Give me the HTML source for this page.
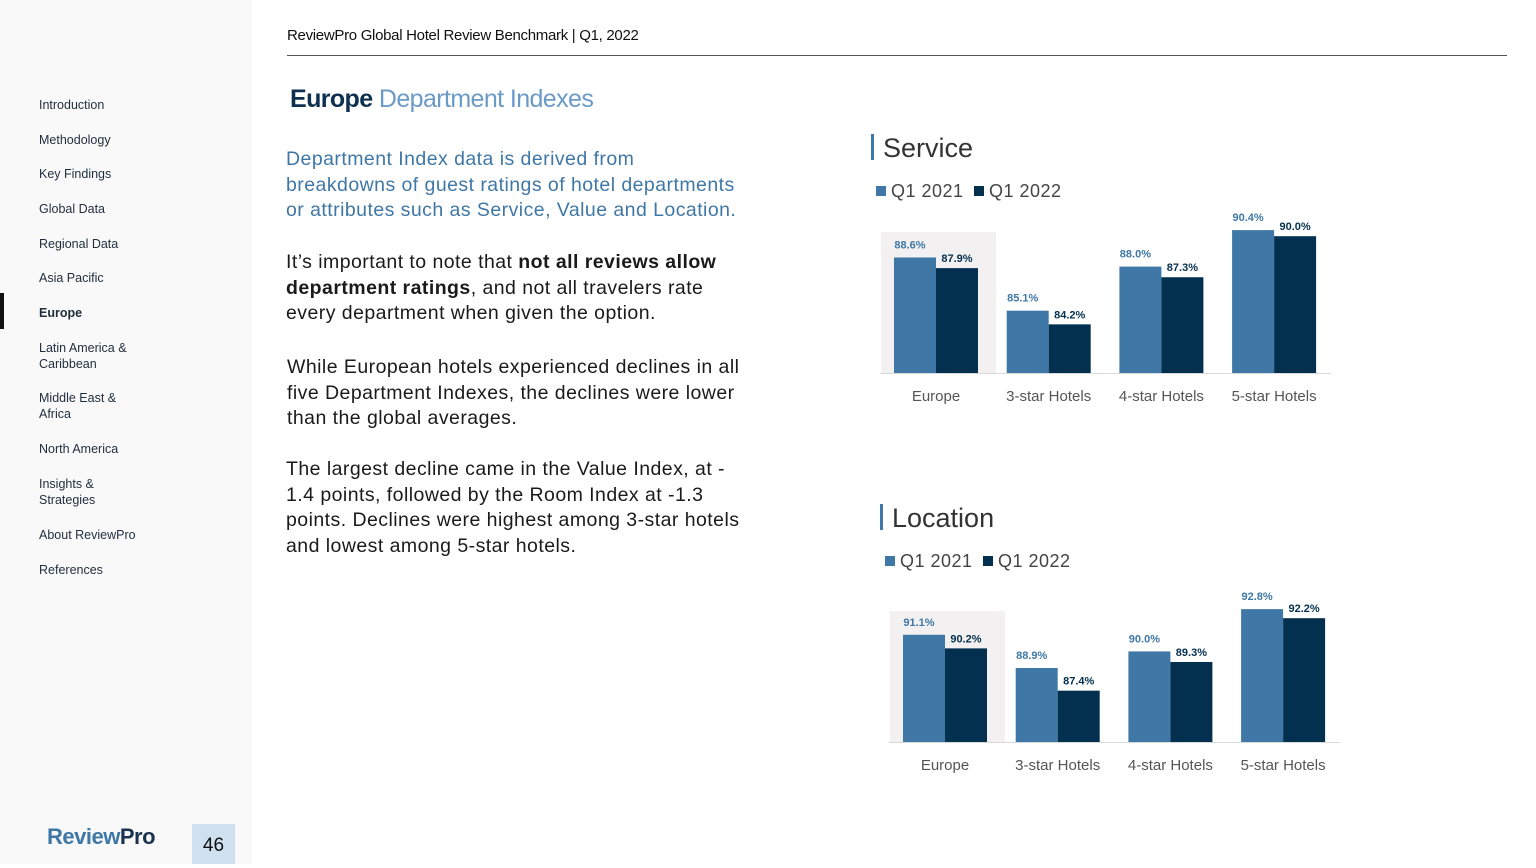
<!DOCTYPE html>
<html><head><meta charset="utf-8"><style>
body{margin:0;width:1536px;height:864px;background:#fff;font-family:"Liberation Sans",sans-serif;position:relative;overflow:hidden;color:#111}
.side{position:absolute;left:0;top:0;width:252px;height:864px;background:#f9f9f9}
.nav{position:absolute;left:39px;font-size:12.5px;color:#1f2d3d;line-height:16px}
.txt{position:absolute;left:286px;font-size:19.5px;line-height:25.5px;color:#1a1a1a;white-space:nowrap;letter-spacing:0.45px}
svg text{font-family:"Liberation Sans",sans-serif}
</style></head><body>
<div class="side"></div>
<div class="nav" style="top:97px">Introduction</div>
<div class="nav" style="top:132px">Methodology</div>
<div class="nav" style="top:166px">Key Findings</div>
<div class="nav" style="top:201px">Global Data</div>
<div class="nav" style="top:236px">Regional Data</div>
<div class="nav" style="top:270px">Asia Pacific</div>
<div style="position:absolute;left:0;top:293px;width:4px;height:36px;background:#111"></div>
<div class="nav" style="top:305px;font-weight:bold">Europe</div>
<div class="nav" style="top:340px">Latin America &amp;<br>Caribbean</div>
<div class="nav" style="top:390px">Middle East &amp;<br>Africa</div>
<div class="nav" style="top:441px">North America</div>
<div class="nav" style="top:476px">Insights &amp;<br>Strategies</div>
<div class="nav" style="top:527px">About ReviewPro</div>
<div class="nav" style="top:562px">References</div>
<div style="position:absolute;left:47px;top:824px;font-size:22px;font-weight:bold;color:#3f77a6;letter-spacing:-0.5px">Review<span style="color:#1b3350">Pro</span></div>
<div style="position:absolute;left:192px;top:824px;width:43px;height:40px;background:#cfe1f1;font-size:19px;text-align:center;line-height:44px">46</div>

<div style="position:absolute;left:287px;top:27px;font-size:15px;letter-spacing:-0.3px">ReviewPro Global Hotel Review Benchmark | Q1, 2022</div>
<div style="position:absolute;left:287px;top:55px;width:1220px;height:1px;background:#555"></div>
<div style="position:absolute;left:290px;top:85px;font-size:25px;letter-spacing:-0.6px"><b style="color:#0d3050">Europe</b> <span style="color:#6a9ac8">Department Indexes</span></div>

<div class="txt" style="top:147px;color:#3f77a6">Department Index data is derived from<br>breakdowns of guest ratings of hotel departments<br>or attributes such as Service, Value and Location.</div>
<div class="txt" style="top:250px">It’s important to note that <b>not all reviews allow</b><br><b>department ratings</b>, and not all travelers rate<br>every department when given the option.</div>
<div class="txt" style="top:355px;left:287px">While European hotels experienced declines in all<br>five Department Indexes, the declines were lower<br>than the global averages.</div>
<div class="txt" style="top:457px">The largest decline came in the Value Index, at -<br>1.4 points, followed by the Room Index at -1.3<br>points. Declines were highest among 3-star hotels<br>and lowest among 5-star hotels.</div>

<svg id="chart" width="1536" height="864" style="position:absolute;left:0;top:0"></svg>
<script>
const categories=["Europe","3-star Hotels","4-star Hotels","5-star Hotels"];
const serviceQ121=[88.6,85.1,88.0,90.4];
const serviceQ122=[87.9,84.2,87.3,90.0];
const locationQ121=[91.1,88.9,90.0,92.8];
const locationQ122=[90.2,87.4,89.3,92.2];
const seriesNames=["Q1 2021","Q1 2022"];
const NS="http://www.w3.org/2000/svg";
const svg=document.getElementById('chart');
function mk(tag,attrs,txt){const e=document.createElementNS(NS,tag);for(const k in attrs)e.setAttribute(k,attrs[k]);if(txt!==undefined)e.textContent=txt;svg.appendChild(e);return e;}
function drawChart(name,title,tx,ty,x0,base,min,scale,a,b){
  let e=mk('rect',{x:tx,y:ty-13,width:3,height:26,fill:'#3f77a6'});
  
  e=mk('text',{x:tx+12,y:ty+10,'font-size':27,fill:'#333'},title);
  
  const cols=['#3f77a6','#04304f'];
  let lx=tx+5;
  seriesNames.forEach((s,i)=>{
    e=mk('rect',{x:lx,y:ty+39,width:10,height:10,fill:cols[i]});
    
    e=mk('text',{x:lx+15,y:ty+50,'font-size':18,fill:'#444','letter-spacing':0.5},s);
    
    lx+=98;
  });
  const y=v=>base-(v-min)*scale;
  const gw=112.7, bw=42;
  const topV=Math.max(...a,...b);
  e=mk('rect',{x:x0-13,y:y(topV)+2,width:115,height:base-y(topV)-2,fill:'#f2f0f0'});
  
  categories.forEach((c,i)=>{
    const gx=x0+i*gw;
    [a,b].forEach((arr,j)=>{
      const bx=gx+j*bw, by=y(arr[i]);
      e=mk('rect',{x:bx,y:by,width:bw,height:base-by,fill:cols[j]});
      
      e=mk('text',{x:bx+bw/2+(j?0:-5),y:by-6-(j?0:3),'font-size':11,'font-weight':'bold','text-anchor':'middle',fill:cols[j]},arr[i].toFixed(1)+'%');
      
    });
    e=mk('text',{x:gx+bw,y:base+28,'font-size':15,'text-anchor':'middle',fill:'#555'},c);
    
  });
  e=mk('line',{x1:x0-14,x2:x0-14+451,y1:base+0.5,y2:base+0.5,stroke:'#d9d9d9'});
  
}
drawChart('service','Service',871,147,894,373,81,15.2,serviceQ121,serviceQ122);
drawChart('location','Location',880,517,903,742,84,15.1,locationQ121,locationQ122);
</script>
</body></html>
